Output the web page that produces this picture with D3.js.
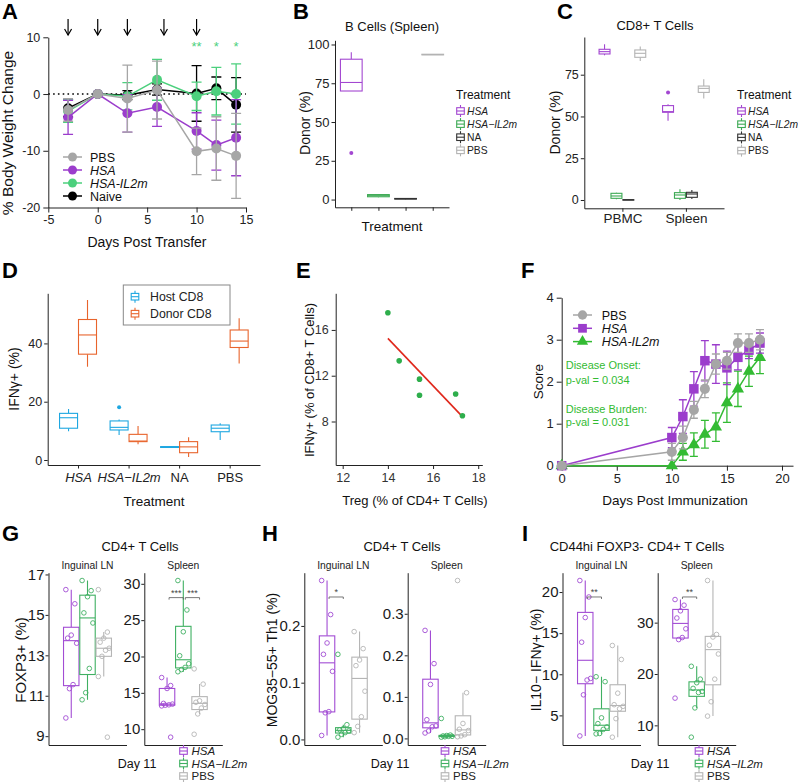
<!DOCTYPE html>
<html>
<head>
<meta charset="utf-8">
<script src="https://cdn.jsdelivr.net/npm/d3@7"></script>
<style>
  body { margin: 0; background: #fff; }
</style>
</head>
<body>
<script>
'use strict';

const width = 798;
const height = 782;
const font = '"Liberation Sans", Arial, Helvetica, sans-serif';

// ---------- A: body weight ----------
const daysA = [-3, 0, 3, 6, 10, 12, 14];
const pbsA = [-2.8, 0, -0.8, 0.7, -10.1, -9.6, -10.9];
const pbsAErr = [2.0, 0, 5.9, 5.1, 4.1, 5.6, 7.5];
const hsaA = [-4.1, 0, -3.4, -2.3, -6.5, -9.0, -7.7];
const hsaAErr = [3.0, 0, 3.3, 3.4, 3.2, 4.4, 6.7];
const il2mA = [-3.0, 0, -0.4, 2.5, -0.4, 0.5, 0.0];
const il2mAErr = [2.0, 0, 2.4, 3.6, 2.5, 4.2, 5.3];
const naiveA = [-2.5, 0, -0.2, 0.8, 0.1, 1.0, -1.9];
const naiveAErr = [1.5, 0, 0.8, 1.0, 4.9, 2.0, 4.8];
const injectionDays = [-3, 0, 3, 6.7, 10];
const starDays = [10, 12, 14];
const starLabels = ['**', '*', '*'];

// ---------- B: B cells spleen ----------
const treatments = ['HSA', 'HSA\u2212IL2m', 'NA', 'PBS'];
const bLow  = [70, 1.5, 0.2, 93.2];
const bQ1   = [70, 1.8, 0.3, 93.3];
const bMed  = [75.5, 2.5, 0.5, 93.5];
const bQ3   = [90.5, 3.2, 0.7, 93.7];
const bHigh = [95, 3.5, 0.8, 93.8];
const bOut  = [[30], [], [], []];

// ---------- C: CD8 donor % (site x treatment) ----------
const sitesC = ['PBMC', 'Spleen'];
const cLow  = [[86.6, 0.4, 0, 83.2], [47.5, 0, 0.6, 60.8]];
const cQ1   = [[87.4, 1.0, 0, 85.4], [52.5, 1.0, 1.6, 64.4]];
const cMed  = [[88.8, 2.4, 0.1, 87.8], [52.9, 3.0, 3.6, 66.8]];
const cQ3   = [[90.2, 4.0, 0.2, 89.8], [56.5, 4.4, 4.6, 68.2]];
const cHigh = [[93.2, 4.4, 0.3, 91.8], [57.3, 6.4, 6.0, 72.2]];
const cOut  = [[[], [], [], []], [[64.4], [], [], []]];

// ---------- D: IFNg+ (treatment x [host, donor]) ----------
const cellsD = ['Host CD8', 'Donor CD8'];
const dLow  = [[9.9, 32.0], [8.6, 5.4], [4.2, 1.0], [6.9, 33.1]];
const dQ1   = [[10.9, 36.3], [10.3, 6.3], [4.3, 2.5], [9.7, 38.6]];
const dMed  = [[14.5, 42.9], [11.2, 6.5], [4.4, 4.5], [10.9, 40.8]];
const dQ3   = [[16.0, 48.2], [13.4, 8.8], [4.6, 6.3], [12.0, 44.6]];
const dHigh = [[17.5, 54.9], [13.9, 11.7], [4.7, 7.8], [12.6, 48.6]];
const dOut  = [[[], []], [[18.1], []], [[], []], [[], []]];

// ---------- E: correlation ----------
const tregE = [14.0, 14.5, 15.4, 15.4, 17.0, 17.3];
const ifngE = [17.5, 13.3, 11.7, 10.3, 10.4, 8.5];

// ---------- F: clinical score ----------
const daysF = [0, 10, 11, 12, 13, 14, 15, 16, 17, 18];
const pbsF = [0, 0.33, 0.67, 1.33, 1.83, 2.42, 2.5, 2.92, 2.92, 3.0];
const pbsFErr = [0, 0.2, 0.27, 0.2, 0.21, 0.24, 0.2, 0.22, 0.22, 0.24];
const hsaF = [0, 0.67, 1.17, 1.83, 2.5, 2.42, 2.33, 2.58, 2.75, 2.92];
const hsaFErr = [0, 0.24, 0.4, 0.41, 0.48, 0.46, 0.4, 0.3, 0.2, 0.24];
const il2mF = [0, 0, 0.33, 0.5, 0.75, 0.92, 1.5, 1.83, 2.25, 2.58];
const il2mFErr = [0, 0, 0.2, 0.28, 0.33, 0.34, 0.47, 0.42, 0.36, 0.39];

// ---------- G, H, I: day 11 (groups: HSA, HSA-IL2m, PBS) ----------
const facets = ['Inguinal LN', 'Spleen'];
const groupsGHI = ['HSA', 'HSA\u2212IL2m', 'PBS'];
const foxp3LN = [
  [16.25, 15.55, 14.0, 13.85, 13.6, 11.55, 11.35, 9.9],
  [16.7, 16.2, 15.9, 15.1, 14.6, 12.35, 11.15, 10.8],
  [16.25, 14.15, 13.85, 13.65, 13.35, 13.25, 12.95, 11.95, 8.95]
];
const foxp3Spleen = [
  [17.1, 16.0, 15.6, 13.55, 13.45, 13.35, 13.3, 13.2, 8.9],
  [30.45, 26.4, 23.4, 20.1, 19.0, 18.5, 18.2, 17.9],
  [18.3, 16.2, 13.9, 13.7, 13.4, 12.9, 12.1, 9.3]
];
const th1LN = [
  [0.28, 0.22, 0.17, 0.15, 0.12, 0.049, 0.047, 0.007],
  [0.15, 0.026, 0.019, 0.017, 0.015, 0.012, 0.009, 0.004],
  [0.19, 0.16, 0.14, 0.13, 0.085, 0.04, 0.023, 0.012]
];
const th1Spleen = [
  [0.26, 0.18, 0.13, 0.045, 0.03, 0.028, 0.018, 0.013],
  [0.048, 0.008, 0.007, 0.006, 0.005, 0.005, 0.004, 0.003],
  [0.38, 0.11, 0.036, 0.022, 0.019, 0.009, 0.006, 0.004]
];
const ifngLN = [
  [21.4, 19.4, 16.9, 13.9, 9.5, 9.3, 7.5, 2.5],
  [9.7, 9.1, 4.7, 4.0, 3.6, 3.3, 2.8, 2.75],
  [13.5, 11.8, 7.7, 6.3, 6.1, 5.8, 4.6, 2.35]
];
const ifngSpleen = [
  [34.5, 33.4, 32.3, 30.9, 28.8, 27.1, 26.7, 15.3],
  [21.5, 19.0, 18.3, 17.2, 16.6, 16.4, 13.4, 7.7],
  [38.2, 27.7, 27.2, 25.6, 23.9, 19.0, 14.6, 11.8]
];
const ticksG = [[9, 11, 13, 15, 17], [10, 15, 20, 25, 30]];
const ticksH = [[0, 0.1, 0.2], [0, 0.1, 0.2, 0.3]];
const ticksI = [[5, 10, 15, 20], [10, 20, 30]];
// significance: facet, from group, to group, y value, label
const sigG = [[1, 0, 1, 28.1, '***'], [1, 1, 2, 28.1, '***']];
const sigH = [[0, 0, 1, 0.251, '*']];
const sigI = [[0, 0, 1, 19.4, '**'], [1, 0, 1, 35.0, '**']];

// ---------- helpers ----------
const svg = d3.select('body').append('svg')
  .attr('width', width)
  .attr('height', height)
  .style('font-family', font);

const fmtInt = d3.format('d');

function styleAxis(g, size, color) {
  g.attr('font-family', font).attr('font-size', size);
  g.selectAll('text').attr('fill', color || '#222');
  g.selectAll('line').attr('stroke', '#222');
  g.select('.domain').attr('stroke', '#222');
}

function label(txt, x, y, size, opts) {
  opts = opts || {};
  return svg.append('text')
    .attr('x', x).attr('y', y)
    .attr('text-anchor', opts.anchor || 'middle')
    .attr('fill', opts.color || '#111')
    .style('font-size', size + 'px')
    .style('font-weight', opts.bold ? 'bold' : null)
    .style('font-style', opts.italic ? 'italic' : null)
    .text(txt);
}

function rotLabel(txt, cx, cy, size) {
  svg.append('text')
    .attr('transform', `translate(${cx},${cy}) rotate(-90)`)
    .attr('text-anchor', 'middle')
    .attr('dy', '0.35em')
    .attr('fill', '#111')
    .style('font-size', size + 'px')
    .text(txt);
}

function drawBox(g, cx, w, s, color, y) {
  g.append('line').attr('x1', cx).attr('x2', cx)
    .attr('y1', y(s.hi)).attr('y2', y(s.q3))
    .attr('stroke', color).attr('stroke-width', 1.1);
  g.append('line').attr('x1', cx).attr('x2', cx)
    .attr('y1', y(s.q1)).attr('y2', y(s.lo))
    .attr('stroke', color).attr('stroke-width', 1.1);
  g.append('rect')
    .attr('x', cx - w / 2).attr('width', w)
    .attr('y', y(s.q3)).attr('height', Math.max(0.5, y(s.q1) - y(s.q3)))
    .attr('fill', '#fff').attr('stroke', color).attr('stroke-width', 1.1);
  g.append('line').attr('x1', cx - w / 2).attr('x2', cx + w / 2)
    .attr('y1', y(s.med)).attr('y2', y(s.med))
    .attr('stroke', color).attr('stroke-width', 1.1);
  (s.out || []).forEach(v => {
    g.append('circle').attr('cx', cx).attr('cy', y(v)).attr('r', 2)
      .attr('fill', color);
  });
}

function boxKey(g, cx, cy, color) {
  g.append('line').attr('x1', cx).attr('x2', cx).attr('y1', cy - 6).attr('y2', cy + 6)
    .attr('stroke', color).attr('stroke-width', 1.1);
  g.append('rect').attr('x', cx - 3.8).attr('y', cy - 3.3).attr('width', 7.6).attr('height', 6.6)
    .attr('fill', '#fff').attr('stroke', color).attr('stroke-width', 1.1);
  g.append('line').attr('x1', cx - 3.8).attr('x2', cx + 3.8).attr('y1', cy).attr('y2', cy)
    .attr('stroke', color).attr('stroke-width', 1.1);
}

function statsFromPoints(pts) {
  const s = pts.slice().sort(d3.ascending);
  const q1 = d3.quantile(s, 0.25), med = d3.quantile(s, 0.5), q3 = d3.quantile(s, 0.75);
  const iqr = q3 - q1;
  const inside = s.filter(v => v >= q1 - 1.5 * iqr && v <= q3 + 1.5 * iqr);
  return { lo: d3.min(inside), q1: q1, med: med, q3: q3, hi: d3.max(inside) };
}

function letter(txt, x, y) {
  label(txt, x, y, 22, { anchor: 'start', bold: true, color: '#000' });
}

// ---------- Panel A ----------
(function () {
  const g = svg.append('g');
  const x = d3.scaleLinear().domain([-5, 15]).range([48.3, 246]);
  const y = d3.scaleLinear().domain([-20, 10]).range([207.5, 37.3]);

  g.append('g').attr('transform', `translate(0,${y(-20)})`)
    .call(d3.axisBottom(x).tickValues([-5, 0, 5, 10, 15]).tickSize(5).tickSizeOuter(0).tickPadding(3)
      .tickFormat(d => String(d)))
    .call(a => styleAxis(a, 12.5));
  g.append('g').attr('transform', `translate(${x(-5)},0)`)
    .call(d3.axisLeft(y).tickValues([-20, -10, 0, 10]).tickSize(5).tickSizeOuter(0).tickPadding(3)
      .tickFormat(d => String(d)))
    .call(a => styleAxis(a, 12.5));

  g.append('line')
    .attr('x1', x(-5)).attr('x2', x(15)).attr('y1', y(0)).attr('y2', y(0))
    .attr('stroke', '#000').attr('stroke-width', 1.6).attr('stroke-dasharray', '1.6,3.2');

  injectionDays.forEach(d => {
    g.append('line').attr('x1', x(d)).attr('x2', x(d)).attr('y1', 19).attr('y2', 35)
      .attr('stroke', '#000').attr('stroke-width', 1.2);
    g.append('path').attr('d', `M${x(d) - 3.5},29 L${x(d)},35 L${x(d) + 3.5},29`)
      .attr('fill', 'none').attr('stroke', '#000').attr('stroke-width', 1.2);
  });

  starDays.forEach((d, i) => {
    g.append('text').attr('x', x(d)).attr('y', 51).attr('text-anchor', 'middle')
      .attr('fill', '#4cd07d').style('font-size', '13px').text(starLabels[i]);
  });

  const series = [
    { name: 'PBS', v: pbsA, e: pbsAErr, color: '#a6a6a6', italic: false },
    { name: 'HSA', v: hsaA, e: hsaAErr, color: '#9b3dcc', italic: true },
    { name: 'HSA-IL2m', v: il2mA, e: il2mAErr, color: '#4cd07d', italic: true },
    { name: 'Naive', v: naiveA, e: naiveAErr, color: '#000', italic: false }
  ];
  const line = d3.line().x((d, i) => x(daysA[i])).y(d => y(d));

  series.slice().reverse().forEach(s => {
    daysA.forEach((d, i) => {
      if (!s.e[i]) return;
      const cx = x(d);
      g.append('path')
        .attr('d', `M${cx},${y(s.v[i] + s.e[i])}V${y(s.v[i] - s.e[i])}` +
          `M${cx - 5},${y(s.v[i] + s.e[i])}H${cx + 5}M${cx - 5},${y(s.v[i] - s.e[i])}H${cx + 5}`)
        .attr('stroke', s.color).attr('stroke-width', 1.3).attr('fill', 'none');
    });
    g.append('path').attr('d', line(s.v)).attr('fill', 'none')
      .attr('stroke', s.color).attr('stroke-width', 1.5);
    g.selectAll(null).data(s.v).enter().append('circle')
      .attr('cx', (d, i) => x(daysA[i])).attr('cy', d => y(d)).attr('r', 5)
      .attr('fill', s.color);
  });

  series.forEach((s, i) => {
    const ly = 157 + i * 13;
    g.append('line').attr('x1', 63).attr('x2', 82).attr('y1', ly).attr('y2', ly)
      .attr('stroke', s.color).attr('stroke-width', 1.5);
    g.append('circle').attr('cx', 72.5).attr('cy', ly).attr('r', 4.5).attr('fill', s.color);
    g.append('text').attr('x', 90).attr('y', ly).attr('dy', '0.36em')
      .style('font-size', '12.5px').style('font-style', s.italic ? 'italic' : null)
      .attr('fill', '#111').text(s.name);
  });

  rotLabel('% Body Weight Change', 8, 133, 15.5);
  label('Days Post Transfer', 147, 247, 14);
  letter('A', 2, 19);
})();

// ---------- Panel B ----------
const colorsTrt = ['#a347d1', '#3eaa55', '#333333', '#b3b3b3'];
(function () {
  const g = svg.append('g');
  const x = d3.scaleLinear().domain([-0.6, 3.6]).range([335, 449]);
  const y = d3.scaleLinear().domain([-5, 102.7]).range([207.3, 40.3]);
  const step = x(1) - x(0);

  g.append('g').attr('transform', 'translate(0,207.3)')
    .call(d3.axisBottom(x).tickValues([0, 1, 2, 3]).tickFormat('').tickSize(3.5).tickSizeOuter(0))
    .call(a => styleAxis(a, 12.5));
  g.append('g').attr('transform', 'translate(335,0)')
    .call(d3.axisLeft(y).tickValues([0, 25, 50, 75, 100]).tickSize(3.5).tickSizeOuter(0).tickPadding(2)
      .tickFormat(fmtInt))
    .call(a => styleAxis(a, 13, '#222'));

  treatments.forEach((t, i) => {
    drawBox(g, x(i), step * 0.8,
      { lo: bLow[i], q1: bQ1[i], med: bMed[i], q3: bQ3[i], hi: bHigh[i], out: bOut[i] },
      colorsTrt[i], y);
  });

  label('B Cells (Spleen)', 392, 30.5, 13);
  rotLabel('Donor (%)', 305, 123, 14);
  label('Treatment', 392, 231, 13.5);

  label('Treatment', 456, 98.5, 12, { anchor: 'start' });
  treatments.forEach((t, i) => {
    const ky = 111 + i * 13.1;
    boxKey(g, 460.5, ky, colorsTrt[i]);
    label(t, 467, ky + 3.6, 10.3, { anchor: 'start', italic: i < 2, color: '#222' });
  });
  letter('B', 293, 19);
})();

// ---------- Panel C ----------
(function () {
  const g = svg.append('g');
  const x = d3.scaleLinear().domain([-0.6, 1.6]).range([584.3, 724]);
  const y = d3.scaleLinear().domain([-4.97, 97.56]).range([208.3, 37]);
  const unit = x(1) - x(0);

  g.append('g').attr('transform', 'translate(0,208.3)')
    .call(d3.axisBottom(x).tickValues([0, 1]).tickFormat(i => sitesC[i]).tickSize(3.5).tickSizeOuter(0).tickPadding(2))
    .call(a => styleAxis(a, 13.5, '#222'));
  g.append('g').attr('transform', 'translate(584.3,0)')
    .call(d3.axisLeft(y).tickValues([0, 25, 50, 75]).tickSize(3.5).tickSizeOuter(0).tickPadding(2)
      .tickFormat(fmtInt))
    .call(a => styleAxis(a, 12.5, '#222'));

  sitesC.forEach((site, si) => {
    treatments.forEach((t, j) => {
      const cx = x(si + (j - 1.5) * 0.1875);
      drawBox(g, cx, unit * 0.1875 * 0.92,
        { lo: cLow[si][j], q1: cQ1[si][j], med: cMed[si][j], q3: cQ3[si][j], hi: cHigh[si][j], out: cOut[si][j] },
        colorsTrt[j], y);
    });
  });

  label('CD8+ T Cells', 655, 30, 13);
  rotLabel('Donor (%)', 555, 122.6, 14);
  label('Treatment', 737, 98.5, 12, { anchor: 'start' });
  treatments.forEach((t, i) => {
    const ky = 111 + i * 13.2;
    boxKey(g, 741.5, ky, colorsTrt[i]);
    label(t, 748, ky + 3.6, 10.3, { anchor: 'start', italic: i < 2, color: '#222' });
  });
  letter('C', 557, 19);
})();

// ---------- Panel D ----------
(function () {
  const g = svg.append('g');
  const colors = ['#1ea7e1', '#e8642c'];
  const x = d3.scaleLinear().domain([-0.6, 3.6]).range([47.7, 260]);
  const y = d3.scaleLinear().domain([-1.715, 57.19]).range([465, 293.3]);
  const unit = x(1) - x(0);

  const ax = g.append('g').attr('transform', 'translate(0,465)')
    .call(d3.axisBottom(x).tickValues([0, 1, 2, 3]).tickFormat(i => treatments[i]).tickSize(3.5).tickSizeOuter(0).tickPadding(4))
    .call(a => styleAxis(a, 13, '#222'));
  ax.selectAll('.tick text').style('font-style', (d) => d < 2 ? 'italic' : null);
  g.append('g').attr('transform', 'translate(47.7,0)')
    .call(d3.axisLeft(y).tickValues([0, 20, 40]).tickSize(3.5).tickSizeOuter(0).tickPadding(2)
      .tickFormat(fmtInt))
    .call(a => styleAxis(a, 12.5, '#222'));

  treatments.forEach((t, i) => {
    cellsD.forEach((c, j) => {
      const cx = x(i + (j - 0.5) * 0.375);
      drawBox(g, cx, unit * 0.375 * 0.95,
        { lo: dLow[i][j], q1: dQ1[i][j], med: dMed[i][j], q3: dQ3[i][j], hi: dHigh[i][j], out: dOut[i][j] },
        colors[j], y);
    });
  });

  g.append('rect').attr('x', 123.3).attr('y', 285).attr('width', 106.7).attr('height', 40)
    .attr('fill', '#fff').attr('stroke', '#888').attr('stroke-width', 1);
  cellsD.forEach((c, j) => {
    const ky = 296.7 + j * 17;
    boxKey(g, 135, ky, colors[j]);
    label(c, 150, ky + 4.3, 12.3, { anchor: 'start', color: '#222' });
  });

  rotLabel('IFN\u03b3+ (%)', 14, 379, 14);
  label('Treatment', 154, 505.5, 13.5);
  letter('D', 2, 278);
})();

// ---------- Panel E ----------
(function () {
  const g = svg.append('g');
  const x = d3.scaleLinear().domain([11.69, 18.18]).range([335.7, 482.3]);
  const y = d3.scaleLinear().domain([4.2, 19.2]).range([465, 293.3]);

  g.append('g').attr('transform', 'translate(0,465)')
    .call(d3.axisBottom(x).tickValues([12, 14, 16, 18]).tickSize(4).tickSizeOuter(0).tickPadding(4)
      .tickFormat(fmtInt))
    .call(a => styleAxis(a, 12.5, '#333'));
  g.append('g').attr('transform', 'translate(335.7,0)')
    .call(d3.axisLeft(y).tickValues([8, 12, 16]).tickSize(4).tickSizeOuter(0).tickPadding(3)
      .tickFormat(fmtInt))
    .call(a => styleAxis(a, 12.5, '#333'));

  const mx = d3.mean(tregE), my = d3.mean(ifngE);
  const slope = d3.sum(tregE, (d, i) => (d - mx) * (ifngE[i] - my)) / d3.sum(tregE, d => (d - mx) * (d - mx));
  const x0 = d3.min(tregE), x1 = d3.max(tregE);
  g.append('line')
    .attr('x1', x(x0)).attr('y1', y(my + slope * (x0 - mx)))
    .attr('x2', x(x1)).attr('y2', y(my + slope * (x1 - mx)))
    .attr('stroke', '#e0281c').attr('stroke-width', 1.6);

  g.selectAll(null).data(tregE).enter().append('circle')
    .attr('cx', d => x(d)).attr('cy', (d, i) => y(ifngE[i])).attr('r', 2.8)
    .attr('fill', '#2eae4c');

  rotLabel('IFN\u03b3+ (% of CD8+ T Cells)', 309, 380, 13);
  label('Treg (% of CD4+ T Cells)', 415, 505, 13);
  letter('E', 296, 278);
})();

// ---------- Panel F ----------
(function () {
  const g = svg.append('g');
  const x = d3.scaleLinear().domain([0, 21]).range([561.7, 793]);
  const y = d3.scaleLinear().domain([0, 4]).range([465.7, 297.7]);

  g.append('g').attr('transform', 'translate(0,465.7)')
    .call(d3.axisBottom(x).tickValues([0, 5, 10, 15, 20]).tickSize(5).tickSizeOuter(0).tickPadding(3)
      .tickFormat(fmtInt))
    .call(a => styleAxis(a, 13));
  g.append('g').attr('transform', 'translate(561.7,0)')
    .call(d3.axisLeft(y).tickValues([0, 1, 2, 3, 4]).tickSize(5).tickSizeOuter(0).tickPadding(3)
      .tickFormat(fmtInt))
    .call(a => styleAxis(a, 13));

  const series = [
    { name: 'PBS', v: pbsF, e: pbsFErr, color: '#a6a6a6', shape: d3.symbolCircle, size: 80, italic: false },
    { name: 'HSA', v: hsaF, e: hsaFErr, color: '#9b3dcc', shape: d3.symbolSquare, size: 90, italic: true },
    { name: 'HSA-IL2m', v: il2mF, e: il2mFErr, color: '#33bb33', shape: d3.symbolTriangle, size: 65, italic: true }
  ];
  const line = d3.line().x((d, i) => x(daysF[i])).y(d => y(d));

  series.slice().reverse().forEach(s => {
    daysF.forEach((d, i) => {
      if (!s.e[i]) return;
      const cx = x(d);
      g.append('path')
        .attr('d', `M${cx},${y(s.v[i] + s.e[i])}V${y(s.v[i] - s.e[i])}` +
          `M${cx - 4},${y(s.v[i] + s.e[i])}H${cx + 4}M${cx - 4},${y(s.v[i] - s.e[i])}H${cx + 4}`)
        .attr('stroke', s.color).attr('stroke-width', 1.3).attr('fill', 'none');
    });
    g.append('path').attr('d', line(s.v)).attr('fill', 'none')
      .attr('stroke', s.color).attr('stroke-width', 1.5);
    g.selectAll(null).data(s.v).enter().append('path')
      .attr('transform', (d, i) => `translate(${x(daysF[i])},${y(d)})`)
      .attr('d', d3.symbol().type(s.shape).size(s.size))
      .attr('fill', s.color);
  });

  series.forEach((s, i) => {
    const ly = 315 + i * 13.3;
    g.append('line').attr('x1', 573).attr('x2', 592).attr('y1', ly).attr('y2', ly)
      .attr('stroke', s.color).attr('stroke-width', 1.5);
    g.append('path').attr('transform', `translate(582.5,${ly})`)
      .attr('d', d3.symbol().type(s.shape).size(s.size * 0.85)).attr('fill', s.color);
    g.append('text').attr('x', 601.7).attr('y', ly).attr('dy', '0.36em')
      .style('font-size', '12.5px').style('font-style', s.italic ? 'italic' : null)
      .attr('fill', '#111').text(s.name);
  });

  const green = '#33bb33';
  label('Disease Onset:', 565.7, 369, 11, { anchor: 'start', color: green });
  label('p-val = 0.034', 565.7, 384, 11, { anchor: 'start', color: green });
  label('Disease Burden:', 565.7, 413, 11, { anchor: 'start', color: green });
  label('p-val = 0.031', 565.7, 426, 11, { anchor: 'start', color: green });

  rotLabel('Score', 538, 381.7, 13.5);
  label('Days Post Immunization', 675, 505, 13.5);
  letter('F', 521, 278);
})();

// ---------- Panels G, H, I ----------
const colorsGHI = ['#a24cd4', '#3fb062', '#b5b5b5'];
const panelW = 78;
const facetTop = 572.7;
const facetBottom = 745;

function facetPanel(p) {
  const g = svg.append('g');
  p.data.forEach((groups, f) => {
    const x0 = p.axisX[f];
    const x = d3.scaleLinear().domain([0.4, 1.6]).range([x0, x0 + panelW]);
    const ext = d3.extent(groups.flat());
    const pad = (ext[1] - ext[0]) * 0.05;
    const y = d3.scaleLinear().domain([ext[0] - pad, ext[1] + pad]).range([facetBottom, facetTop]);
    const unit = x(1) - x(0);

    g.append('g').attr('transform', `translate(0,${facetBottom})`)
      .call(d3.axisBottom(x).tickValues([]).tickSizeOuter(0))
      .call(a => styleAxis(a, 15));
    g.append('g').attr('transform', `translate(${x0},0)`)
      .call(d3.axisLeft(y).tickValues(p.ticks[f]).tickSize(3).tickSizeOuter(0).tickPadding(1)
        .tickFormat(p.fmt))
      .call(a => styleAxis(a, 15, '#1a1a1a'));

    label(facets[f], x(1), 568.5, 10.3, { color: '#222' });

    groups.forEach((pts, j) => {
      const cx = x(1 + (j - 1) * 0.25);
      const bw = unit * 0.25 * 0.95;
      drawBox(g, cx, bw, statsFromPoints(pts), colorsGHI[j], y);
      g.selectAll(null).data(pts).enter().append('circle')
        .attr('cx', (d, i) => cx + ((((i * 5) % 7) / 6) - 0.5) * 0.7 * bw)
        .attr('cy', d => y(d)).attr('r', 2.3)
        .attr('fill', 'none').attr('stroke', colorsGHI[j]).attr('stroke-width', 0.9);
    });

    p.sig.filter(s => s[0] === f).forEach(s => {
      const xa = x(1 + (s[1] - 1) * 0.25) + 2;
      const xb = x(1 + (s[2] - 1) * 0.25);
      const ys = y(s[3]);
      g.append('path').attr('d', `M${xa},${ys + 2}V${ys}H${xb}V${ys + 2}`)
        .attr('fill', 'none').attr('stroke', '#555').attr('stroke-width', 0.8);
      g.append('text').attr('x', (xa + xb) / 2).attr('y', ys - 2).attr('text-anchor', 'middle')
        .attr('fill', '#444').style('font-size', '9px').text(s[4]);
    });
  });

  label(p.title, p.titleX, 551, 13);
  rotLabel(p.ylabel, p.ylabelX, 660, p.ylabelSize);
  label('Day 11', p.dayX, 767.5, 12.5);
  groupsGHI.forEach((t, i) => {
    const ky = 751 + i * 12.5;
    boxKey(g, p.legendX, ky, colorsGHI[i]);
    label(t, p.legendX + 8, ky + 4, 11.5, { anchor: 'start', italic: i < 2, color: '#222' });
  });
  letter(p.letter, p.letterX, 541);
}

facetPanel({
  data: [foxp3LN, foxp3Spleen], ticks: ticksG, fmt: d3.format('d'), sig: sigG,
  axisX: [48.5, 144.3], title: 'CD4+ T Cells', titleX: 140,
  ylabel: 'FOXP3+ (%)', ylabelX: 21, ylabelSize: 15, dayX: 137, legendX: 183.5, letter: 'G', letterX: 2
});
facetPanel({
  data: [th1LN, th1Spleen], ticks: ticksH, fmt: d3.format('.1f'), sig: sigH,
  axisX: [304.3, 407.7], title: 'CD4+ T Cells', titleX: 402,
  ylabel: 'MOG35\u221255+ Th1 (%)', ylabelX: 272, ylabelSize: 14, dayX: 390, legendX: 445, letter: 'H', letterX: 262
});
facetPanel({
  data: [ifngLN, ifngSpleen], ticks: ticksI, fmt: d3.format('d'), sig: sigI,
  axisX: [562.5, 657.7], title: 'CD44hi FOXP3- CD4+ T Cells', titleX: 637,
  ylabel: 'IL10\u2212 IFN\u03b3+ (%)', ylabelX: 536, ylabelSize: 14, dayX: 650, legendX: 699, letter: 'I', letterX: 522
});
</script>
</body>
</html>
